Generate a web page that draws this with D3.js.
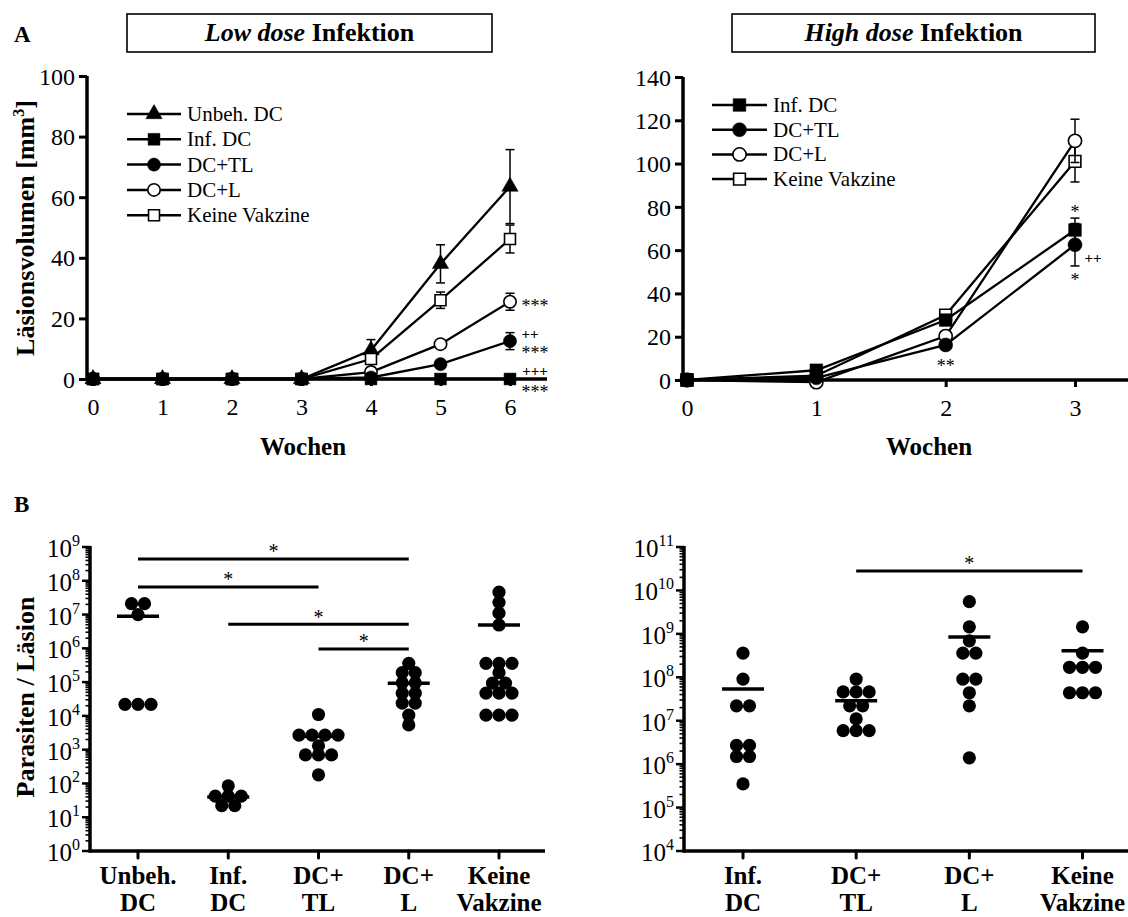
<!DOCTYPE html>
<html>
<head>
<meta charset="utf-8">
<script src="https://cdn.jsdelivr.net/npm/d3@7"></script>
<style>
  body { margin: 0; background: #fff; }
  svg { display: block; }
  text { font-family: "Liberation Serif", "Times New Roman", Times, serif; fill: #000; }
</style>
</head>
<body>
<svg id="fig" width="1128" height="917"></svg>
<script>
// ---------- Lesion volume, low dose infection (mm³, mean ± SEM) ----------
const weeksLow = [0, 1, 2, 3, 4, 5, 6];
const unbehLow    = [0, 0, 0, 0, 9.5, 38, 63.5];
const unbehLowSem = [0, 0, 0, 0, 3.5, 6.3, 12.2];
const infLow      = [0, 0, 0, 0, 0, 0, 0];
const infLowSem   = [0, 0, 0, 0, 0, 0, 0];
const tlLow       = [0, 0, 0, 0, 0.5, 4.9, 12.5];
const tlLowSem    = [0, 0, 0, 0, 0.3, 0.8, 2.8];
const lLow        = [0, 0, 0, 0, 2.3, 11.5, 25.5];
const lLowSem     = [0, 0, 0, 0, 0.5, 1.0, 2.8];
const keineLow    = [0, 0, 0, 0, 6.6, 26, 46.2];
const keineLowSem = [0, 0, 0, 0, 1.2, 2.7, 4.6];
const lowTicksY   = [0, 20, 40, 60, 80, 100];

// ---------- Lesion volume, high dose infection ----------
const weeksHigh    = [0, 1, 2, 3];
const infHigh      = [0, 4.5, 27.7, 69.3];
const infHighSem   = [0, 0.8, 2, 5.5];
const tlHigh       = [0, 1, 16.2, 62.5];
const tlHighSem    = [0, 0.5, 1.5, 9.8];
const lHigh        = [0, -1, 20.3, 110.5];
const lHighSem     = [0, 0.5, 2, 10];
const keineHigh    = [0, 2, 30, 101];
const keineHighSem = [0, 0.8, 2, 9.5];
const highTicksY   = [0, 20, 40, 60, 80, 100, 120, 140];

// significance marks next to the curves
const lowMarks  = [
  { group: "DC+L",    week: 6, text: "***" },
  { group: "DC+TL",   week: 6, text: "++" },
  { group: "DC+TL",   week: 6, text: "***" },
  { group: "Inf. DC", week: 6, text: "+++" },
  { group: "Inf. DC", week: 6, text: "***" }
];
const highMarks = [
  { group: "Inf. DC", week: 3, text: "*" },
  { group: "DC+TL",   week: 3, text: "++" },
  { group: "DC+TL",   week: 3, text: "*" },
  { group: "DC+TL",   week: 2, text: "**" }
];

// ---------- Parasite load per lesion ----------
const groupsLow  = ["Unbeh.|DC", "Inf.|DC", "DC+|TL", "DC+|L", "Keine|Vakzine"];
const unbehPar   = [2.1e7, 2.1e7, 1.0e7, 2.2e4, 2.2e4, 2.2e4];
const infParLow  = [85, 42, 42, 42, 22, 22];
const tlParLow   = [1.1e4, 2.7e3, 2.7e3, 2.7e3, 2.7e3, 1.3e3, 700, 700, 700, 180];
const lParLow    = [3.6e5, 1.9e5, 1.9e5, 9.5e4, 9.5e4, 4.7e4, 4.7e4, 2.4e4, 2.4e4, 1.05e4, 5.4e3];
const keineParLow = [4.6e7, 2.3e7, 1.1e7, 4.9e6, 3.6e5, 3.6e5, 3.6e5, 1.9e5, 9.3e4, 9.3e4,
                     4.7e4, 4.7e4, 4.7e4, 1.05e4, 1.05e4, 1.05e4];
const meansParLow = [8.9e6, 40, 2.5e3, 9.3e4, 4.9e6];
const sigLow      = [ { a: 0, b: 3, level: 4.4e8 }, { a: 0, b: 2, level: 6.5e7 },
                      { a: 1, b: 3, level: 5.2e6 }, { a: 2, b: 3, level: 9.5e5 } ];

const groupsHigh  = ["Inf.|DC", "DC+|TL", "DC+|L", "Keine|Vakzine"];
const infParHigh  = [3.6e8, 9.1e7, 2.2e7, 2.2e7, 2.7e6, 2.7e6, 1.5e6, 1.5e6, 3.5e5];
const tlParHigh   = [9.1e7, 4.6e7, 4.6e7, 4.6e7, 2.2e7, 2.2e7, 1.1e7, 5.9e6, 5.9e6, 5.9e6];
const lParHigh    = [5.5e9, 1.45e9, 6.9e8, 3.6e8, 3.6e8, 9.1e7, 9.1e7, 4.4e7, 2.2e7, 1.4e6];
const keineParHigh = [1.45e9, 3.6e8, 1.7e8, 1.7e8, 1.7e8, 4.4e7, 4.4e7, 4.4e7];
const meansParHigh = [5.4e7, 2.9e7, 8.5e8, 4.1e8];
const sigHigh      = [ { a: 1, b: 3, level: 2.8e10 } ];

// ---------- drawing ----------
const svg = d3.select("#fig");
svg.append("rect").attr("width", 1128).attr("height", 917).attr("fill", "#fff");

const markerStyle = {
  "Unbeh. DC":     { type: d3.symbolTriangle, fill: "#000", size: 115 },
  "Inf. DC":       { type: d3.symbolSquare,   fill: "#000", size: 140 },
  "DC+TL":         { type: d3.symbolCircle,   fill: "#000", size: 135 },
  "DC+L":          { type: d3.symbolCircle,   fill: "#fff", size: 120 },
  "Keine Vakzine": { type: d3.symbolSquare,   fill: "#fff", size: 120 }
};

function marker(g, name, cx, cy, scale) {
  const st = markerStyle[name];
  g.append("path")
    .attr("d", d3.symbol().type(st.type).size(st.size * (scale || 1))())
    .attr("transform", `translate(${cx},${cy})`)
    .attr("fill", st.fill)
    .attr("stroke", "#000")
    .attr("stroke-width", st.fill === "#fff" ? 1.6 : 0.5);
}

// asterisks / plus signs centred vertically on cy
function markText(g, txt, cx, cy, size) {
  const plus = txt.startsWith("+");
  const fs = size || (plus ? 15 : 18);
  g.append("text")
    .attr("x", cx).attr("y", cy + (plus ? 0.3 : 0.47) * fs)
    .attr("text-anchor", "middle")
    .attr("font-size", fs)
    .attr("font-weight", plus ? "bold" : "normal")
    .style("fill", "#000")
    .text(txt);
}

function linePanel(p) {
  const g = svg.append("g");
  const x = d3.scaleLinear().domain(d3.extent(p.weeks)).range(p.xRange);
  const y = d3.scaleLinear().domain(d3.extent(p.yTicks)).range(p.yRange);

  // title box
  g.append("rect").attr("x", p.box[0]).attr("y", 14).attr("width", p.box[1] - p.box[0]).attr("height", 38)
    .attr("fill", "#fff").attr("stroke", "#000").attr("stroke-width", 1.6);
  const t = g.append("text").attr("x", (p.box[0] + p.box[1]) / 2).attr("y", 41)
    .attr("text-anchor", "middle").attr("font-size", 26).attr("font-weight", "bold");
  t.append("tspan").attr("font-style", "italic").text(p.titleItalic + " ");
  t.append("tspan").text(p.titleRest);

  // axes
  const ya = g.append("g").attr("transform", `translate(${p.axisX},0)`)
    .call(d3.axisLeft(y).tickValues(p.yTicks).tickFormat(d3.format("d"))
      .tickSize(8).tickPadding(4).tickSizeOuter(0));
  const xa = g.append("g").attr("transform", `translate(0,${y(0)})`)
    .call(d3.axisBottom(x).tickValues(p.weeks).tickFormat(d3.format("d"))
      .tickSize(7).tickPadding(12).tickSizeOuter(0));
  [ya, xa].forEach(a => {
    a.attr("font-family", null).attr("font-size", null);
    a.select(".domain").remove();
    a.selectAll(".tick line").attr("stroke-width", 3);
    a.selectAll("text").attr("font-size", 24);
  });
  ya.selectAll("text").attr("dy", "0.34em");
  g.append("line").attr("x1", p.axisX).attr("x2", p.axisX).attr("y1", y(0) + 1.75).attr("y2", y(d3.max(p.yTicks)))
    .attr("stroke", "#000").attr("stroke-width", 3.5);
  g.append("line").attr("x1", p.axisX).attr("x2", p.xEnd).attr("y1", y(0)).attr("y2", y(0))
    .attr("stroke", "#000").attr("stroke-width", 3.5);

  // axis titles
  g.append("text").attr("x", p.xTitleX).attr("y", 455)
    .attr("text-anchor", "middle").attr("font-size", 25).attr("font-weight", "bold").text("Wochen");
  if (p.yLabel) {
    const yl = g.append("text").attr("transform", "translate(34,228) rotate(-90)")
      .attr("text-anchor", "middle").attr("font-size", 26).attr("font-weight", "bold");
    yl.append("tspan").text("Läsionsvolumen [mm");
    yl.append("tspan").attr("font-size", 16).attr("dy", -10).text("3");
    yl.append("tspan").attr("dy", 10).text("]");
  }

  // curves
  const line = d3.line().x(d => x(d[0])).y(d => y(d[1]));
  p.order.forEach(name => {
    const s = p.series[name];
    g.append("path").datum(p.weeks.map((w, i) => [w, s.v[i]]))
      .attr("d", line).attr("fill", "none").attr("stroke", "#000").attr("stroke-width", 2.3);
  });
  p.order.forEach(name => {
    const s = p.series[name];
    p.weeks.forEach((w, i) => {
      if (s.e[i] > 0) {
        const cx = x(w), y1 = y(s.v[i] - s.e[i]), y2 = y(s.v[i] + s.e[i]);
        g.append("line").attr("x1", cx).attr("x2", cx).attr("y1", y1).attr("y2", y2)
          .attr("stroke", "#000").attr("stroke-width", 1.5);
        [y1, y2].forEach(yy => g.append("line").attr("x1", cx - 4.5).attr("x2", cx + 4.5)
          .attr("y1", yy).attr("y2", yy).attr("stroke", "#000").attr("stroke-width", 1.5));
      }
    });
    p.weeks.forEach((w, i) => marker(g, name, x(w), y(s.v[i]), p.markerScale));
  });

  // legend
  p.legend.forEach((name, i) => {
    const ly = p.legendY + i * p.legendDy;
    g.append("line").attr("x1", p.legendX[0]).attr("x2", p.legendX[1]).attr("y1", ly).attr("y2", ly)
      .attr("stroke", "#000").attr("stroke-width", 2.5);
    marker(g, name, (p.legendX[0] + p.legendX[1]) / 2, ly, p.markerScale);
    g.append("text").attr("x", p.legendX[1] + 6).attr("y", ly + 7).attr("font-size", 21).text(name);
  });

  // significance marks
  p.marks.forEach((m, i) => {
    const s = p.series[m.group];
    const wi = p.weeks.indexOf(m.week);
    const off = p.markOffsets[i];
    markText(g, m.text, x(m.week) + off[0], y(s.v[wi]) + off[1]);
  });
}

linePanel({
  weeks: weeksLow, xRange: [93, 510], yRange: [379, 76], axisX: 87, xEnd: 547, xTitleX: 303,
  yTicks: lowTicksY, box: [127, 492], titleItalic: "Low dose", titleRest: "Infektion", yLabel: true,
  series: {
    "Unbeh. DC": { v: unbehLow, e: unbehLowSem },
    "Inf. DC": { v: infLow, e: infLowSem },
    "DC+TL": { v: tlLow, e: tlLowSem },
    "DC+L": { v: lLow, e: lLowSem },
    "Keine Vakzine": { v: keineLow, e: keineLowSem }
  },
  order: ["Unbeh. DC", "Keine Vakzine", "DC+L", "DC+TL", "Inf. DC"],
  legend: ["Unbeh. DC", "Inf. DC", "DC+TL", "DC+L", "Keine Vakzine"],
  legendX: [127, 181], legendY: 114, legendDy: 25.3, markerScale: 1,
  marks: lowMarks, markOffsets: [[25, 2], [20, -7], [25, 9], [25, -7.5], [25, 11]]
});

linePanel({
  weeks: weeksHigh, xRange: [687, 1075], yRange: [380, 77], axisX: 683, xEnd: 1128, xTitleX: 929,
  yTicks: highTicksY, box: [732, 1095], titleItalic: "High dose", titleRest: "Infektion", yLabel: false,
  series: {
    "Inf. DC": { v: infHigh, e: infHighSem },
    "DC+TL": { v: tlHigh, e: tlHighSem },
    "DC+L": { v: lHigh, e: lHighSem },
    "Keine Vakzine": { v: keineHigh, e: keineHighSem }
  },
  order: ["Keine Vakzine", "DC+L", "Inf. DC", "DC+TL"],
  legend: ["Inf. DC", "DC+TL", "DC+L", "Keine Vakzine"],
  legendX: [712, 767], legendY: 105, legendDy: 24.7, markerScale: 1.15,
  marks: highMarks, markOffsets: [[0, -20], [18, 14], [0, 33], [0, 19]]
});

// ---------- scatter panels ----------
function swarm(values, step) {
  const counts = d3.rollup(values, v => v.length, d => d);
  const seen = new Map();
  return values.map(v => {
    const n = counts.get(v), i = seen.get(v) || 0;
    seen.set(v, i + 1);
    return { v, off: (i - (n - 1) / 2) * step };
  });
}

function dotPanel(p) {
  const g = svg.append("g");
  const y = d3.scaleLog().domain(p.yDomain).range([851, 547]);
  const x = d3.scalePoint().domain(p.groups).range(p.xRange);
  const lo = Math.log10(p.yDomain[0]), hi = Math.log10(p.yDomain[1]);

  // y axis with decade and minor ticks
  for (let k = lo; k <= hi; k++) {
    const yy = y(Math.pow(10, k));
    g.append("line").attr("x1", p.axisX - 8).attr("x2", p.axisX).attr("y1", yy).attr("y2", yy)
      .attr("stroke", "#000").attr("stroke-width", 2.5);
    const lab = g.append("text").attr("x", p.axisX - 10).attr("y", yy + 10)
      .attr("text-anchor", "end").attr("font-size", 25);
    lab.append("tspan").text("10");
    lab.append("tspan").attr("font-size", 16).attr("dy", -11).text(k);
    if (k < hi) {
      for (let m = 2; m <= 9; m++) {
        const ym = y(m * Math.pow(10, k));
        g.append("line").attr("x1", p.axisX - 4.5).attr("x2", p.axisX).attr("y1", ym).attr("y2", ym)
          .attr("stroke", "#000").attr("stroke-width", 1.6);
      }
    }
  }
  g.append("line").attr("x1", p.axisX).attr("x2", p.axisX).attr("y1", 852.75).attr("y2", 546)
    .attr("stroke", "#000").attr("stroke-width", 3.5);
  g.append("line").attr("x1", p.axisX).attr("x2", p.xEnd).attr("y1", 851).attr("y2", 851)
    .attr("stroke", "#000").attr("stroke-width", 3.5);

  // x axis ticks and category labels
  p.groups.forEach(gr => {
    g.append("line").attr("x1", x(gr)).attr("x2", x(gr)).attr("y1", 851).attr("y2", 858)
      .attr("stroke", "#000").attr("stroke-width", 3).attr("stroke-linecap", "round");
    const parts = gr.split("|");
    parts.forEach((s, i) => g.append("text").attr("x", x(gr)).attr("y", 884 + i * 27)
      .attr("text-anchor", "middle").attr("font-size", 25).attr("font-weight", "bold").text(s));
  });

  // dots
  p.values.forEach((vals, gi) => {
    const cx = x(p.groups[gi]);
    swarm(vals, 13).forEach(d => g.append("circle").attr("cx", cx + d.off).attr("cy", y(d.v))
      .attr("r", 6.6).attr("fill", "#000"));
  });
  // group means
  p.means.forEach((m, gi) => {
    const cx = x(p.groups[gi]);
    g.append("line").attr("x1", cx - 21).attr("x2", cx + 21).attr("y1", y(m)).attr("y2", y(m))
      .attr("stroke", "#000").attr("stroke-width", 3.5);
  });
  // significance brackets
  p.sig.forEach(s => {
    const x1 = x(p.groups[s.a]), x2 = x(p.groups[s.b]), yy = y(s.level);
    g.append("line").attr("x1", x1).attr("x2", x2).attr("y1", yy).attr("y2", yy)
      .attr("stroke", "#000").attr("stroke-width", 3);
    markText(g, "*", (x1 + x2) / 2, yy - 10, 20);
  });

  if (p.yLabel) {
    g.append("text").attr("transform", "translate(34,697) rotate(-90)")
      .attr("text-anchor", "middle").attr("font-size", 26).attr("font-weight", "bold")
      .text("Parasiten / Läsion");
  }
}

dotPanel({
  groups: groupsLow, xRange: [138, 499], axisX: 90, xEnd: 545, yDomain: [1, 1e9],
  values: [unbehPar, infParLow, tlParLow, lParLow, keineParLow], means: meansParLow,
  sig: sigLow, yLabel: true
});
dotPanel({
  groups: groupsHigh, xRange: [743, 1082.5], axisX: 684, xEnd: 1128, yDomain: [1e4, 1e11],
  values: [infParHigh, tlParHigh, lParHigh, keineParHigh], means: meansParHigh,
  sig: sigHigh, yLabel: false
});

// panel letters
svg.append("text").attr("x", 14).attr("y", 42).attr("font-size", 23).attr("font-weight", "bold").text("A");
svg.append("text").attr("x", 14).attr("y", 512).attr("font-size", 23).attr("font-weight", "bold").text("B");
</script>
</body>
</html>
